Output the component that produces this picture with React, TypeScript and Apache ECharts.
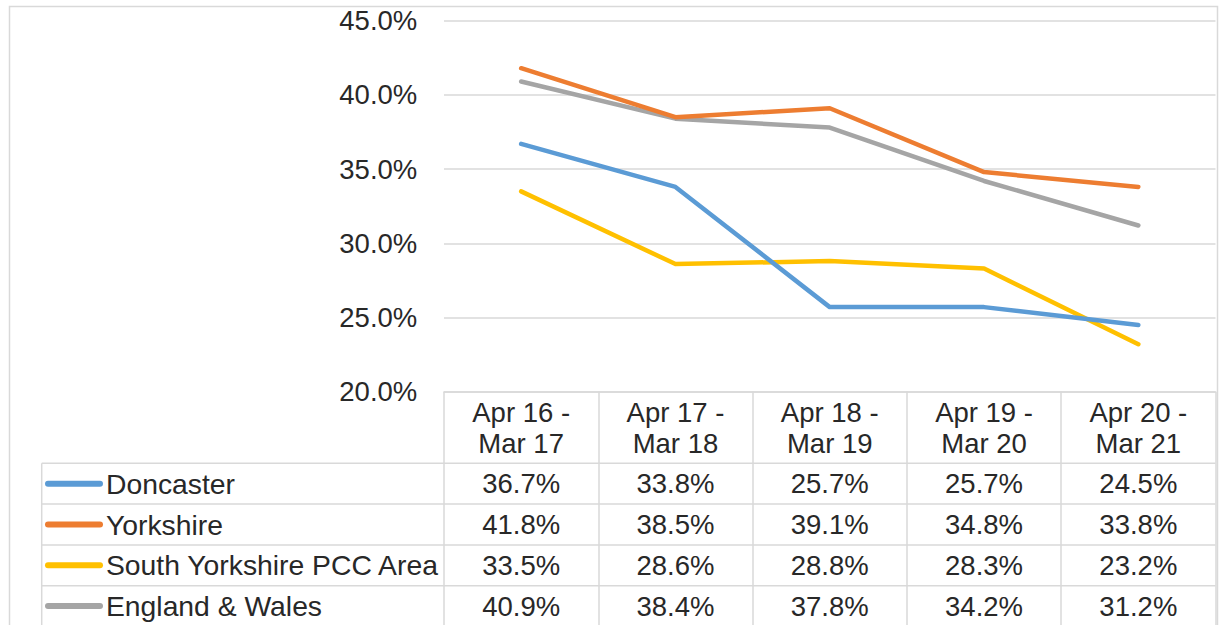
import React, { useEffect, useRef } from "react";
import * as echarts from "echarts";

const categories = [
  "Apr 16 -\nMar 17",
  "Apr 17 -\nMar 18",
  "Apr 18 -\nMar 19",
  "Apr 19 -\nMar 20",
  "Apr 20 -\nMar 21",
];
const seriesNames = ["Doncaster", "Yorkshire", "South Yorkshire PCC Area", "England & Wales"];
const doncaster = [36.7, 33.8, 25.7, 25.7, 24.5];
const yorkshire = [41.8, 38.5, 39.1, 34.8, 33.8];
const southYorkshire = [33.5, 28.6, 28.8, 28.3, 23.2];
const englandWales = [40.9, 38.4, 37.8, 34.2, 31.2];
const yMin = 20;
const yMax = 45;
const yStep = 5;

const seriesData = [doncaster, yorkshire, southYorkshire, englandWales];
const colors = ["#5B9BD5", "#ED7D31", "#FFC000", "#A5A5A5"];

const W = 1219;
const H = 625;
const GRID_LEFT = 444;
const GRID_RIGHT = 3.5;
const GRID_TOP = 20.7;
const AXIS_Y = 391.7;
const HEADER_BOTTOM = 463.3;
const ROW_H = 40.8;
const TABLE_LEFT = 41.7;
const FONT = "'Liberation Sans', Arial, sans-serif";
const TEXT = "#282828";
const BORDER = "#D9D9D9";

export default function App() {
  const ref = useRef<HTMLDivElement>(null);
  useEffect(() => {
    if (!ref.current) return;
    const chart = echarts.init(ref.current, undefined, { renderer: "svg" });
    chart.setOption({
      animation: false,
      backgroundColor: "#ffffff",
      textStyle: { fontFamily: FONT },
      grid: { left: GRID_LEFT, right: GRID_RIGHT, top: GRID_TOP, bottom: H - AXIS_Y, containLabel: false },
      xAxis: {
        type: "category",
        data: categories,
        boundaryGap: true,
        axisLine: { show: true, lineStyle: { color: BORDER, width: 1.5 } },
        axisTick: {
          show: true,
          alignWithLabel: false,
          interval: 0,
          length: H - AXIS_Y + 5,
          lineStyle: { color: BORDER, width: 1.5 },
        },
        axisLabel: {
          interval: 0,
          margin: 5,
          fontSize: 27.5,
          lineHeight: 31,
          color: TEXT,
          fontFamily: FONT,
        },
      },
      yAxis: {
        type: "value",
        min: yMin,
        max: yMax,
        interval: yStep,
        axisLine: { show: false },
        axisTick: { show: false },
        axisLabel: {
          margin: 26.7,
          fontSize: 27.5,
          color: TEXT,
          fontFamily: FONT,
          formatter: (v: number) => v.toFixed(1) + "%",
        },
        splitLine: { show: true, lineStyle: { color: BORDER, width: 1.5 } },
      },
      series: seriesNames.map((name, i) => ({
        name,
        type: "line",
        data: seriesData[i],
        symbol: "none",
        lineStyle: { color: colors[i], width: 4.5, cap: "round", join: "round" },
        itemStyle: { color: colors[i] },
        z: 2 + (3 - i),
      })),
    });

    const colCenters = categories.map((_, i) => chart.convertToPixel({ xAxisIndex: 0 }, i) as number);
    const tableRight = W - GRID_RIGHT;

    const graphics: any[] = [];
    graphics.push({
      type: "rect",
      shape: { x: 9.5, y: 6.5, width: 1208, height: 700 },
      style: { fill: "none", stroke: BORDER, lineWidth: 1.5 },
      silent: true,
      z: 0,
    });
    for (let k = 0; k < seriesNames.length; k++) {
      const y = HEADER_BOTTOM + k * ROW_H;
      graphics.push({
        type: "line",
        shape: { x1: TABLE_LEFT, y1: y, x2: tableRight, y2: y },
        style: { stroke: BORDER, lineWidth: 1.5 },
        silent: true,
      });
      const cy = y + ROW_H / 2;
      graphics.push({
        type: "line",
        shape: { x1: 48, y1: cy, x2: 100, y2: cy },
        style: { stroke: colors[k], lineWidth: 6, lineCap: "round" },
        silent: true,
      });
      graphics.push({
        type: "text",
        x: 106,
        y: cy,
        style: {
          text: seriesNames[k],
          fontSize: 28.3,
          fontFamily: FONT,
          fill: TEXT,
          align: "left",
          verticalAlign: "middle",
        },
        silent: true,
      });
      seriesData[k].forEach((v, i) => {
        graphics.push({
          type: "text",
          x: colCenters[i],
          y: cy,
          style: {
            text: v.toFixed(1) + "%",
            fontSize: 27.5,
            fontFamily: FONT,
            fill: TEXT,
            align: "center",
            verticalAlign: "middle",
          },
          silent: true,
        });
      });
    }
    graphics.push({
      type: "line",
      shape: { x1: TABLE_LEFT, y1: HEADER_BOTTOM, x2: TABLE_LEFT, y2: H + 5 },
      style: { stroke: BORDER, lineWidth: 1.5 },
      silent: true,
    });
    chart.setOption({ graphic: graphics });

    return () => chart.dispose();
  }, []);
  return (
    <div
      ref={ref}
      style={{ position: "absolute", left: 0, top: 0, width: W, height: H }}
    />
  );
}
